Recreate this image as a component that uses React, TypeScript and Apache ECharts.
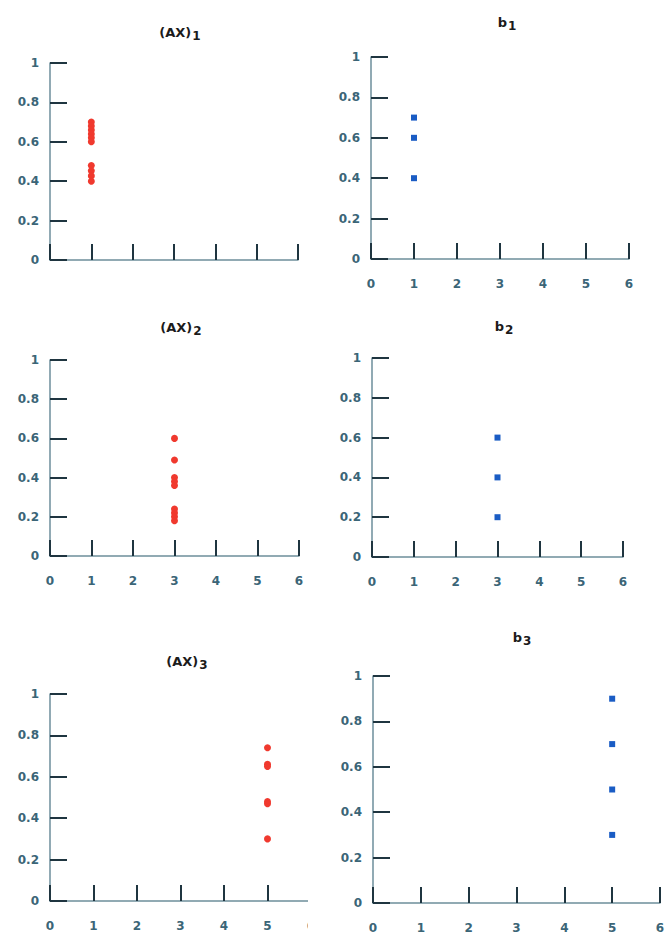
import React, { useEffect, useRef } from "react";
import * as echarts from "echarts";

// ---- data ----
const xTickMin = 0;
const xTickMax = 6;
const yTickMin = 0;
const yTickMax = 1;

const titles = ["(AX)", "b", "(AX)", "b", "(AX)", "b"];
const subscripts = ["1", "1", "2", "2", "3", "3"];

const ax1X = 1;
const ax1Y = [0.7, 0.68, 0.66, 0.64, 0.62, 0.6, 0.48, 0.453, 0.427, 0.4];
const b1X = 1;
const b1Y = [0.7, 0.6, 0.4];
const ax2X = 3;
const ax2Y = [0.6, 0.49, 0.4, 0.38, 0.36, 0.24, 0.22, 0.2, 0.18];
const b2X = 3;
const b2Y = [0.6, 0.4, 0.2];
const ax3X = 5;
const ax3Y = [0.74, 0.66, 0.65, 0.48, 0.47, 0.3];
const b3X = 5;
const b3Y = [0.9, 0.7, 0.5, 0.3];

const panelX = [ax1X, b1X, ax2X, b2X, ax3X, b3X];
const panelY = [ax1Y, b1Y, ax2Y, b2Y, ax3Y, b3Y];

// ---- layout (pixels) ----
const grids = [
  { left: 50, top: 63, width: 248, height: 197 },
  { left: 371, top: 57, width: 258, height: 202 },
  { left: 50, top: 360, width: 249, height: 196 },
  { left: 372, top: 358, width: 251, height: 199 },
  { left: 50, top: 694, width: 261, height: 207 },
  { left: 373, top: 676, width: 287, height: 227 },
];
const titlePos = [
  { x: 175, y: 33 },
  { x: 502, y: 23 },
  { x: 176, y: 328 },
  { x: 499, y: 327 },
  { x: 182, y: 662 },
  { x: 517, y: 638 },
];
const showXLabels = [false, true, true, true, true, true];

const AXIS_COLOR = "#6d8e9b";
const TICK_COLOR = "#1f3540";
const LABEL_COLOR = "#3b6577";
const RED = "#f0392e";
const BLUE = "#1a5cc4";

export default function App() {
  const ref = useRef<HTMLDivElement>(null);
  useEffect(() => {
    if (!ref.current) return;
    const chart = echarts.init(ref.current, null, { renderer: "svg" });
    const isRed = (i: number) => i % 2 === 0;
    const option: any = {
      animation: false,
      backgroundColor: "#ffffff",
      grid: grids.map((g) => ({ ...g, containLabel: false })),
      title: titles.map((t, i) => ({
        text: `{m|${t}}{s|${subscripts[i]}}`,
        left: titlePos[i].x,
        top: titlePos[i].y - 16,
        textAlign: "center",
        textStyle: {
          rich: {
            m: {
              fontFamily: "DejaVu Sans",
              fontWeight: "bold",
              fontSize: 13,
              color: "#1b1b1b",
            },
            s: {
              fontFamily: "DejaVu Sans",
              fontWeight: "bold",
              fontSize: 12,
              color: "#1b1b1b",
              padding: [8, 0, 0, 1],
            },
          },
        },
      })),
      xAxis: grids.map((_, i) => ({
        type: "value",
        gridIndex: i,
        min: xTickMin,
        max: xTickMax,
        interval: 1,
        splitLine: { show: false },
        axisLine: { show: true, onZero: false, lineStyle: { color: AXIS_COLOR, width: 1.5 } },
        axisTick: { show: true, inside: true, length: 16, lineStyle: { color: TICK_COLOR, width: 2 } },
        axisLabel: {
          show: showXLabels[i],
          margin: 19,
          color: LABEL_COLOR,
          fontFamily: "DejaVu Sans",
          fontWeight: "bold",
          fontSize: 12,
        },
      })),
      yAxis: grids.map((_, i) => ({
        type: "value",
        gridIndex: i,
        min: yTickMin,
        max: yTickMax,
        interval: 0.2,
        splitLine: { show: false },
        axisLine: { show: true, onZero: false, lineStyle: { color: AXIS_COLOR, width: 1.5 } },
        axisTick: { show: true, inside: true, length: 17, lineStyle: { color: TICK_COLOR, width: 2 } },
        axisLabel: {
          margin: 11,
          color: LABEL_COLOR,
          fontFamily: "DejaVu Sans",
          fontWeight: "bold",
          fontSize: 12,
        },
      })),
      series: panelY.map((ys, i) => ({
        type: "scatter",
        xAxisIndex: i,
        yAxisIndex: i,
        symbol: isRed(i) ? "circle" : "rect",
        symbolSize: isRed(i) ? 7 : 6,
        itemStyle: { color: isRed(i) ? RED : BLUE, opacity: 1 },
        data: ys.map((y) => [panelX[i], y]),
        z: 5,
      })),
      graphic: [
        {
          type: "rect",
          shape: { x: 308, y: 860, width: 28, height: 81 },
          style: { fill: "#ffffff" },
          z: 100,
        },
      ],
    };
    chart.setOption(option);
    return () => chart.dispose();
  }, []);
  return (
    <div
      ref={ref}
      style={{ position: "fixed", left: 0, top: 0, width: 670, height: 941, background: "#fff" }}
    />
  );
}
